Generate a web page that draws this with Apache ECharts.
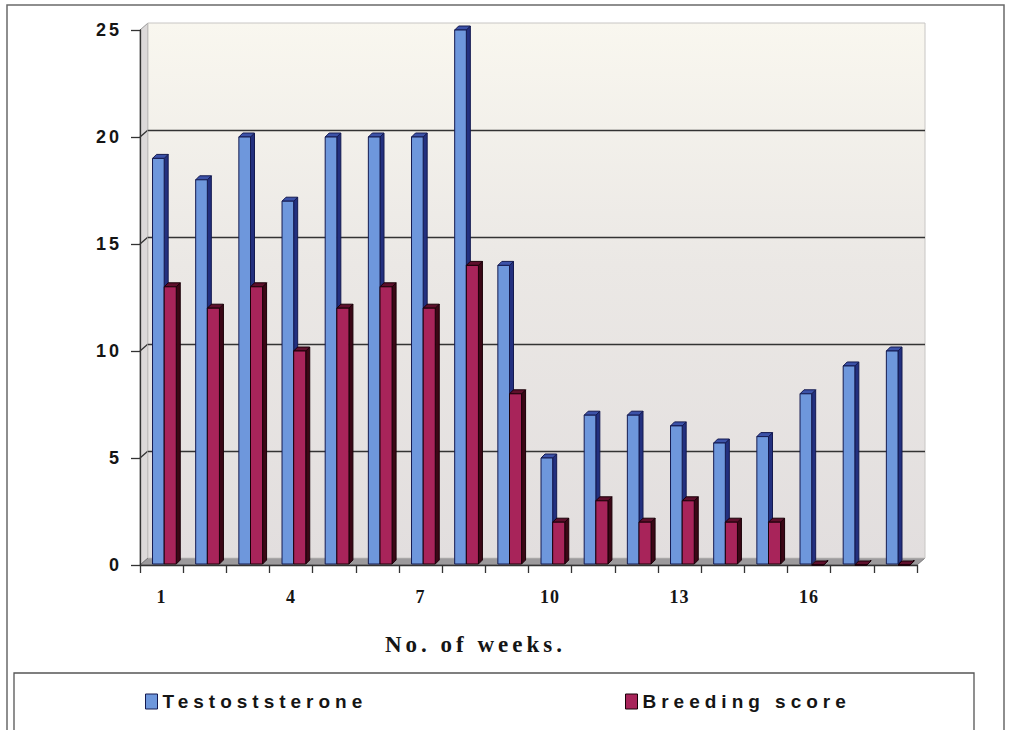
<!DOCTYPE html>
<html>
<head>
<meta charset="utf-8">
<script src="https://cdn.jsdelivr.net/npm/echarts@6/dist/echarts.min.js"></script>
<style>
  html, body { margin: 0; padding: 0; background: #ffffff; }
  #chart { width: 1011px; height: 730px; }
  /* spaced-out lettering used by the legend, value axis and axis title */
  #chart text[style*="Liberation Sans"] { letter-spacing: 5px; }
  #chart text[style*="Arial"] { letter-spacing: 3px; }
  #chart text[style*="Liberation Serif"] { letter-spacing: 4px; }
  #chart text[style*="Times New Roman"] { letter-spacing: 1px; }
</style>
</head>
<body>
<div id="chart"></div>
<script>
// Weekly readings
const weeks = ['1', '2', '3', '4', '5', '6', '7', '8', '9', '10', '11', '12', '13', '14', '15', '16', '17', '18'];
const testosterone = [19, 18, 20, 17, 20, 20, 20, 25, 14, 5, 7, 7, 6.5, 5.7, 6, 8, 9.3, 10];
const breedingScore = [13, 12, 13, 10, 12, 13, 12, 14, 8, 2, 3, 2, 3, 2, 2, 0, 0, 0];
const yTicks = [0, 5, 10, 15, 20, 25];
const seriesNames = ['Testoststerone', 'Breeding score'];
const axisTitle = 'No. of weeks.';

// Plot box (front plane) and the depth offset of the back wall
const W = 1011, H = 730;
const FRONT = { left: 140, top: 30, right: 94, bottom: 165 };
const DEPTH = { dx: 8, dy: -7 };
const BACK = {
  left: FRONT.left + DEPTH.dx, top: FRONT.top + DEPTH.dy,
  right: FRONT.right - DEPTH.dx, bottom: FRONT.bottom - DEPTH.dy
};
const fx0 = FRONT.left, fx1 = W - FRONT.right, fy0 = FRONT.top, fy1 = H - FRONT.bottom;
const yMax = yTicks[yTicks.length - 1];

const chart = echarts.init(document.getElementById('chart'), null, { renderer: 'svg' });

// Draws one bar as a small prism: front face, right side and top
function prism(colors, x0, x1) {
  const bx = 4, by = -4;
  return function (params, api) {
    const i = api.value(0), v = api.value(1);
    const bw = api.size([1, 0])[0];
    const tp = api.coord([i, v]);
    const bp = api.coord([i, 0]);
    const xl = tp[0] + x0 * bw, xr = tp[0] + x1 * bw;
    const yt = tp[1], yb = bp[1] - 1;
    const edge = { stroke: colors.edge, lineWidth: 1 };
    return {
      type: 'group',
      children: [
        { type: 'polygon', shape: { points: [[xr, yt], [xr + bx, yt + by], [xr + bx, yb + by], [xr, yb]] },
          style: Object.assign({ fill: colors.side }, edge) },
        { type: 'polygon', shape: { points: [[xl, yt], [xl + bx, yt + by], [xr + bx, yt + by], [xr, yt]] },
          style: Object.assign({ fill: colors.top }, edge) },
        { type: 'rect', shape: { x: xl, y: yt, width: xr - xl, height: Math.max(yb - yt, 0) },
          style: Object.assign({ fill: colors.front }, edge) }
      ]
    };
  };
}

const blue = { front: '#6e97dc', side: '#23307f', top: '#3c52a8', edge: '#141a50' };
const red = { front: '#a8245a', side: '#3b0716', top: '#5e0f2c', edge: '#1a0008' };

// Side wall, floor and their connecting grid strokes
const decor = [
  { type: 'polygon', z: -10, silent: true,
    shape: { points: [[fx0, fy0], [fx0 + DEPTH.dx, fy0 + DEPTH.dy], [fx0 + DEPTH.dx, fy1 + DEPTH.dy], [fx0, fy1]] },
    style: { fill: '#dcd9d9', stroke: '#9a9a9a', lineWidth: 1 } },
  { type: 'polygon', z: -10, silent: true,
    shape: { points: [[fx0, fy1], [fx0 + DEPTH.dx, fy1 + DEPTH.dy], [fx1 + DEPTH.dx, fy1 + DEPTH.dy], [fx1, fy1]] },
    style: { fill: '#9c9a9c', stroke: '#7a787a', lineWidth: 1 } }
];
yTicks.slice(1, -1).forEach(function (t) {
  const y = fy1 - (fy1 - fy0) * t / yMax;
  decor.push({ type: 'line', z: -5, silent: true,
    shape: { x1: fx0, y1: y, x2: fx0 + DEPTH.dx, y2: y + DEPTH.dy },
    style: { stroke: '#333', lineWidth: 1.3 } });
});
// outer frame and legend box
decor.push({ type: 'rect', silent: true, shape: { x: 7, y: 5, width: 997, height: 740 },
  style: { fill: 'none', stroke: '#6a6a6a', lineWidth: 1.5 } });
decor.push({ type: 'rect', silent: true, shape: { x: 14, y: 673, width: 960, height: 70 },
  style: { fill: 'none', stroke: '#555', lineWidth: 1.3 } });

const legendText = { fontFamily: 'Liberation Sans', fontWeight: 'bold', fontSize: 19, color: '#151515' };

const option = {
  backgroundColor: '#ffffff',
  animation: false,
  grid: [
    Object.assign({ containLabel: false }, FRONT),
    Object.assign({
      containLabel: false, show: true, borderColor: '#c8c6c4', borderWidth: 1,
      backgroundColor: new echarts.graphic.LinearGradient(0, 0, 0, 1, [
        { offset: 0, color: '#f9f7ef' },
        { offset: 0.45, color: '#ebe8e5' },
        { offset: 1, color: '#e2dede' }
      ])
    }, BACK)
  ],
  xAxis: [
    {
      type: 'category', gridIndex: 0, data: weeks,
      name: axisTitle, nameLocation: 'middle', nameGap: 68,
      nameTextStyle: { fontFamily: 'Liberation Serif', fontWeight: 'bold', fontSize: 23, color: '#151515', padding: [0, 106, 0, 0] },
      axisLine: { show: true, lineStyle: { color: '#333', width: 1.3 } },
      axisTick: { show: true, alignWithLabel: false, interval: 0, length: 8, lineStyle: { color: '#333', width: 1.3 } },
      axisLabel: { show: true, interval: 2, margin: 23, fontFamily: 'Times New Roman', fontWeight: 'bold', fontSize: 18, color: '#151515' },
      splitLine: { show: false }
    },
    { type: 'category', gridIndex: 1, data: weeks, show: false }
  ],
  yAxis: [
    {
      type: 'value', gridIndex: 0, min: 0, max: yMax, interval: 5,
      axisLine: { show: true, lineStyle: { color: '#333', width: 1.3 } },
      axisTick: { show: true, length: 9, lineStyle: { color: '#333', width: 1.3 } },
      axisLabel: { margin: 18, fontFamily: 'Arial', fontWeight: 'bold', fontSize: 18, color: '#151515' },
      splitLine: { show: false }
    },
    {
      type: 'value', gridIndex: 1, min: 0, max: yMax, interval: 5,
      axisLine: { show: false }, axisTick: { show: false }, axisLabel: { show: false },
      splitLine: { show: true, showMinLine: false, showMaxLine: false, lineStyle: { color: '#333', width: 1.3 } }
    }
  ],
  legend: [
    { data: [{ name: seriesNames[0], icon: 'rect', itemStyle: { color: blue.front, borderColor: blue.edge, borderWidth: 1 } }],
      left: 140, top: 687, itemWidth: 12, itemHeight: 15, itemGap: 0, textStyle: legendText, selectedMode: false },
    { data: [{ name: seriesNames[1], icon: 'rect', itemStyle: { color: red.front, borderColor: red.edge, borderWidth: 1 } }],
      left: 620, top: 687, itemWidth: 12, itemHeight: 15, itemGap: 0, textStyle: legendText, selectedMode: false }
  ],
  graphic: decor,
  series: [
    { name: seriesNames[0], type: 'custom', xAxisIndex: 0, yAxisIndex: 0,
      itemStyle: { color: blue.front }, encode: { x: 0, y: 1 },
      renderItem: prism(blue, -0.21, 0.06),
      data: testosterone.map(function (v, i) { return [i, v]; }) },
    { name: seriesNames[1], type: 'custom', xAxisIndex: 0, yAxisIndex: 0,
      itemStyle: { color: red.front }, encode: { x: 0, y: 1 },
      renderItem: prism(red, 0.06, 0.34),
      data: breedingScore.map(function (v, i) { return [i, v]; }) }
  ]
};

chart.setOption(option);
</script>
</body>
</html>
